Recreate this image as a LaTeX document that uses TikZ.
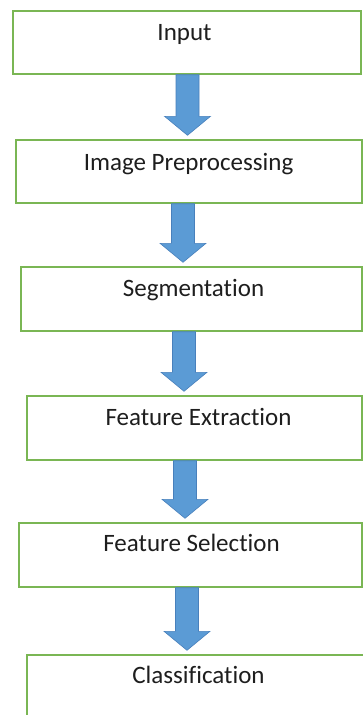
\documentclass[tikz,border=0pt]{standalone}
\usepackage{fontspec}
\setmainfont{Carlito}[Ligatures={NoCommon}]
\usetikzlibrary{calc}
\definecolor{boxgreen}{RGB}{122,182,84}
\definecolor{arrowblue}{RGB}{91,155,213}
\definecolor{arrowedge}{RGB}{72,128,188}
\definecolor{txt}{RGB}{30,30,30}
\tikzset{
  stage/.style={draw=boxgreen, line width=1.4pt, fill=white, rectangle, inner sep=0pt},
  stagetext/.style={anchor=base, font=\fontsize{25}{30}\selectfont, text=txt, inner sep=0pt},
  blockarrow/.style={fill=arrowblue, draw=arrowedge, line width=0.6pt, line join=miter},
}
\newcommand\flowarrow[3]{%
  \draw[blockarrow] let \p1=(#1.south), \p2=(#2.north) in
    ({(#3-11.5)*1pt},\y1) -- ({(#3+11.5)*1pt},\y1) -- ({(#3+11.5)*1pt},\y2+23pt)
    -- ({(#3+23)*1pt},\y2+23pt) -- ({#3*1pt},\y2+4pt) -- ({(#3-23)*1pt},\y2+23pt)
    -- ({(#3-11.5)*1pt},\y2+23pt) -- cycle;}
\begin{document}
\begin{tikzpicture}[x=1pt,y=-1pt]
  \clip (0,0) rectangle (363,715);
  \fill[white] (0,0) rectangle (363,715);
  % boxes
  \node[stage, minimum width=348pt, minimum height=63pt] (b1) at (187,42.5) {};
  \node[stage, minimum width=346pt, minimum height=63pt] (b2) at (189,171.5) {};
  \node[stage, minimum width=341pt, minimum height=64pt] (b3) at (191.5,299) {};
  \node[stage, minimum width=335pt, minimum height=64pt] (b4) at (194.5,428) {};
  \node[stage, minimum width=343pt, minimum height=64pt] (b5) at (190.5,555) {};
  \node[stage, minimum width=337pt, minimum height=80pt] (b6) at (195.5,695) {};
  % texts
  \node[stagetext] (t1) at (184.5,40) {Input};
  \node[stagetext] (t2) at (188.5,170.5) {Image Preprocessing};
  \node[stagetext] (t3) at (193.5,296) {Segmentation};
  \node[stagetext] (t4) at (198.5,425) {Feature Extraction};
  \node[stagetext] (t5) at (191.5,551.5) {Feature Selection};
  \node[stagetext] (t6) at (198.5,683) {Classification};
  % arrows
  \flowarrow{b1}{b2}{187.5}
  \flowarrow{b2}{b3}{183}
  \flowarrow{b3}{b4}{184}
  \flowarrow{b4}{b5}{185}
  \flowarrow{b5}{b6}{187}
\end{tikzpicture}
\end{document}
